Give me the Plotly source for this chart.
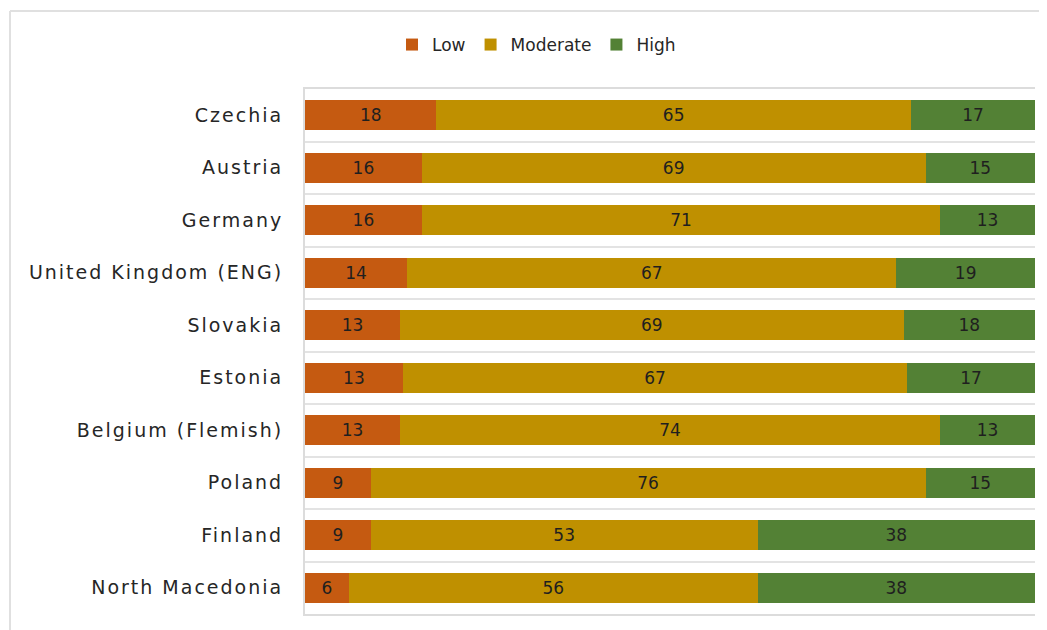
import plotly.graph_objects as go

countries = ["Czechia", "Austria", "Germany", "United Kingdom (ENG)", "Slovakia",
             "Estonia", "Belgium (Flemish)", "Poland", "Finland", "North Macedonia"]
low = [18, 16, 16, 14, 13, 13, 13, 9, 9, 6]
moderate = [65, 69, 71, 67, 69, 67, 74, 76, 53, 56]
high = [17, 15, 13, 19, 18, 17, 13, 15, 38, 38]

series = [("Low", low, "#C55A11"), ("Moderate", moderate, "#BF9000"), ("High", high, "#538135")]

pos = list(range(len(countries)))

fig = go.Figure()
for name, vals, color in series:
    fig.add_trace(go.Bar(
        name=name, x=vals, y=pos, orientation="h",
        marker=dict(color=color, line=dict(width=0)),
        text=[str(v) for v in vals], textposition="inside", insidetextanchor="middle",
        textangle=0, textfont=dict(family="DejaVu Sans", size=17, color="#1f1f1f"),
        hoverinfo="skip",
    ))

OFF = 8  # page body margin
W, H = 1047 - OFF, 630 - OFF
L, T = 305 - OFF, 89 - OFF
pw, ph = 730, 525
R, B = W - L - pw, H - T - ph

def px_x(x):
    return (x - OFF - L) / pw

def px_y(y):
    return 1 - (y - OFF - T) / ph

fig.update_layout(
    width=W, height=H, barmode="stack", barnorm="percent", bargap=0.43,
    paper_bgcolor="white", plot_bgcolor="white",
    margin=dict(l=L, r=R, t=T, b=B),
    showlegend=True,
    legend=dict(orientation="h", x=px_x(392), xanchor="left", y=px_y(45), yanchor="middle",
                font=dict(family="DejaVu Sans", size=17, color="#262626"),
                itemwidth=30, traceorder="normal", itemclick=False),
    xaxis=dict(range=[0, 100], showticklabels=False, showgrid=False, zeroline=False,
               showline=True, mirror=True, linecolor="#dcdcdc", linewidth=2, ticks=""),
    yaxis=dict(range=[len(countries) - 0.5, -0.5], tickmode="array", tickvals=pos, ticktext=countries,
               showgrid=False, zeroline=False, showline=True, linecolor="#dcdcdc", linewidth=2,
               ticks="", ticklabelstandoff=16,
               tickfont=dict(family="DejaVu Sans", size=19, color="#262626"),
               minor=dict(tickmode="array", tickvals=[p + 0.5 for p in pos[:-1]], showgrid=True,
                          gridcolor="#e3e3e3", gridwidth=2, ticks="")),
    shapes=[
        dict(type="line", xref="paper", yref="paper", x0=px_x(10), x1=px_x(1060),
             y0=px_y(11), y1=px_y(11), line=dict(color="#e0e0e0", width=2)),
        dict(type="line", xref="paper", yref="paper", x0=px_x(10), x1=px_x(10),
             y0=px_y(11), y1=px_y(640), line=dict(color="#e0e0e0", width=2)),
    ],
)

post = "document.querySelectorAll('.ytick text').forEach(function(t){t.style.letterSpacing='2px';});"
fig.write_html("out.html", post_script=post)
